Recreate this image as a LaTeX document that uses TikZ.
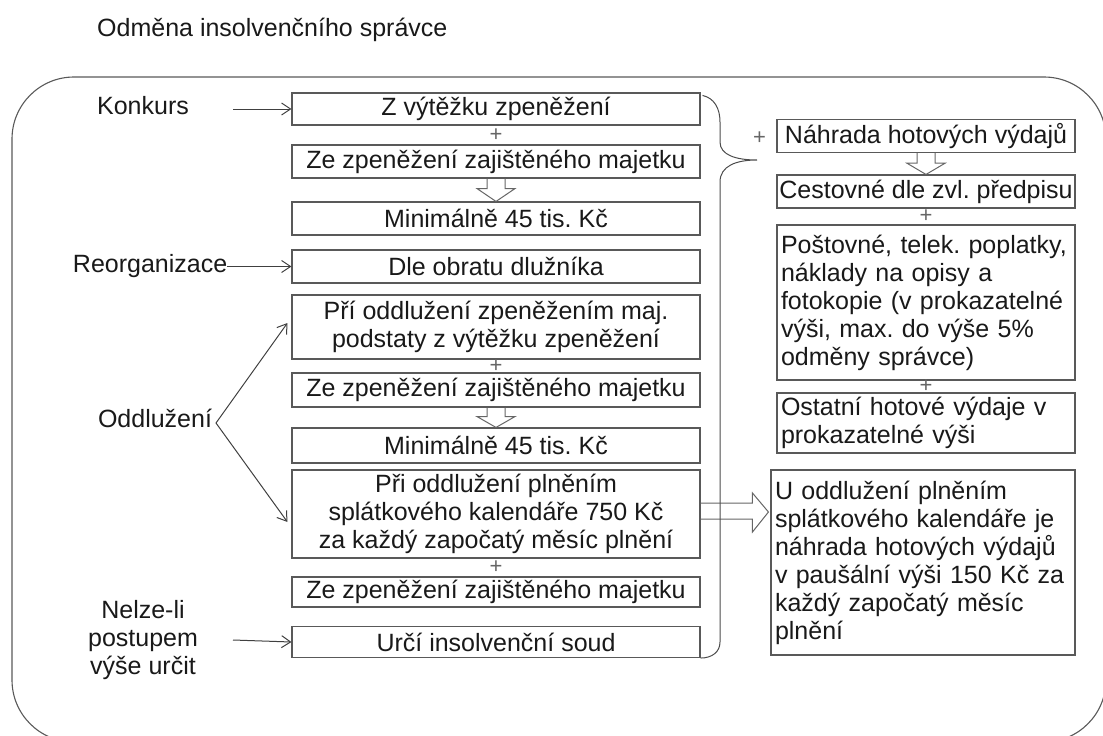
\documentclass[tikz,border=0pt]{standalone}
\usepackage{fontspec}
\setmainfont{Liberation Sans}
\usetikzlibrary{positioning,arrows.meta,calc}
\tikzset{M box/.style={draw=black!65,line width=1.1pt,minimum width=408pt,inner sep=0pt,align=center,text=black!90},
	R box/.style={draw=black!65,line width=1.1pt,inner sep=4pt,text=black!90},
	L text/.style={text=black!90,align=center,inner sep=0pt},
	plus sign/.style={text=black!60,inner sep=0pt,font=\fontsize{22}{22}\selectfont},
	hollow arrow/.style={draw=black!60,line width=1pt},
	thin arrow/.style={draw=black!75,line width=1pt,-{Straight Barb[length=9pt,width=12pt]}},
	brace line/.style={draw=black!70,line width=1pt},}

\begin{document}
\frenchspacing
\begin{tikzpicture}[x=1pt,y=-1pt,font=\fontsize{25}{28}\selectfont]
			\useasboundingbox (0,0) rectangle (1103,736);
			\draw[draw=black!65,line width=1.1pt,rounded corners=62pt] (12,77) rectangle (1106,742);

			\node[L text,anchor=west] (title) at (97,30) {Odměna insolvenčního správce};

			% middle column
			\node[M box,minimum height=32pt] (m1) at (496,109) {Z výtěžku zpeněžení};
			\node[M box,minimum height=33pt] (m2) at (496,161.5) {Ze zpeněžení zajištěného majetku};
			\node[M box,minimum height=33pt] (m3) at (496,218.5) {Minimálně 45 tis. Kč};
			\node[M box,minimum height=33pt] (m4) at (496,266.5) {Dle obratu dlužníka};
			\node[M box,minimum height=64pt] (m5) at (496,327) {Pří oddlužení zpeněžením maj.\\podstaty z výtěžku zpeněžení};
			\node[M box,minimum height=34pt] (m6) at (496,390) {Ze zpeněžení zajištěného majetku};
			\node[M box,minimum height=35pt] (m7) at (496,445.5) {Minimálně 45 tis. Kč};
			\node[M box,minimum height=88pt] (m8) at (496,514) {Při oddlužení plněním\\splátkového kalendáře 750 Kč\\za každý započatý měsíc plnění};
			\node[M box,minimum height=30pt] (m9) at (496,592) {Ze zpeněžení zajištěného majetku};
			\node[M box,minimum height=31pt] (m10) at (496,642) {Určí insolvenční soud};

			\node[plus sign] (p1) at ($(m1.south)!0.5!(m2.north)$) {+};
			\node[plus sign] (p2) at ($(m5.south)!0.5!(m6.north)$) {+};
			\node[plus sign] (p3) at ($(m8.south)!0.5!(m9.north)$) {+};

			% right column
			\node[R box,minimum width=298pt,minimum height=32pt] (r1) at (926,136) {Náhrada hotových výdajů};
			\node[R box,minimum width=298pt,minimum height=33pt,inner sep=0pt] (r2) at (926,191.5) {Cestovné dle zvl. předpisu};
			\node[R box,text width=290pt,minimum height=155pt,align=left] (r3) at (926,302.5) {Poštovné, telek. poplatky,\\náklady na opisy a\\fotokopie (v prokazatelné\\výši, max. do výše 5\%\\odměny správce)};
			\node[R box,text width=290pt,minimum height=60pt,align=left] (r4) at (926,423) {Ostatní hotové výdaje v\\prokazatelné výši};
			\node[R box,text width=296pt,minimum height=185pt,align=left] (r5) at (923,562.5) {U oddlužení plněním\\splátkového kalendáře je\\náhrada hotových výdajů\\v paušální výši 150 Kč za\\každý započatý měsíc\\plnění};

			\node[plus sign] (p4) at ($(r1.west)+(-17,2)$) {+};
			\node[plus sign] (p5) at ($(r2.south)!0.5!(r3.north)$) {+};
			\node[plus sign] (p6) at ($(r3.south)!0.5!(r4.north)$) {+};

			% left labels
			\node[L text] (konkurs) at (143,106) {Konkurs};
			\node[L text,left=64pt of m4] (reorg) {Reorganizace};
			\node[L text] (odd) at (155,418) {Oddlužení};
			\node[L text] (nelze) at (143,640) {Nelze-li\\postupem\\výše určit};

			\coordinate (k0) at (233,109);
			\coordinate (n0) at (233,640);
			\coordinate (o0) at (216,423);

			\draw[thin arrow] (k0) -- (m1.west);
			\draw[thin arrow] (reorg.east) -- (m4.west);
			\draw[thin arrow] (o0) -- ($(m5.west)+(-4,-4)$);
			\draw[thin arrow] (o0) -- ($(m8.west)+(-4,8)$);
			\draw[thin arrow] (n0) -- (m10.west);

			% hollow arrows
			\draw[hollow arrow] ($(m2.south)+(-9,0)$) -- ++(0,10) -- ++(-10,0) -- (m3.north) -- ($(m2.south)+(19,10)$) -- ++(-10,0) -- ($(m2.south)+(9,0)$);
			\draw[hollow arrow] ($(m6.south)+(-9,0)$) -- ++(0,9) -- ++(-10,0) -- (m7.north) -- ($(m6.south)+(19,9)$) -- ++(-10,0) -- ($(m6.south)+(9,0)$);
			\draw[hollow arrow] ($(r1.south)+(-9,0)$) -- ++(0,10) -- ++(-10,0) -- (r2.north) -- ($(r1.south)+(19,10)$) -- ++(-10,0) -- ($(r1.south)+(9,0)$);
			\draw[hollow arrow] ($(m8.east)+(0,-11)$) -- ($(m8.east -| r5.west)+(-18,-11)$) -- ++(0,-10) -- ($(m8.east -| r5.west)+(-2,-2)$) -- ($(m8.east -| r5.west)+(-18,18)$) -- ++(0,-13) -- ($(m8.east)+(0,5)$);

			% brace
			\coordinate (bt) at (757,160);
			\draw[brace line] ($(m1.north east)+(2,3)$) .. controls (714,98) and (720,108) .. (720,122) -- (720,142) .. controls (720,155) and (736,160) .. (bt) .. controls (736,160) and (720,166) .. (720,182) -- (720,642) .. controls (720,652) and (712,658) .. (m10.south east);
		\end{tikzpicture}
\end{document}
